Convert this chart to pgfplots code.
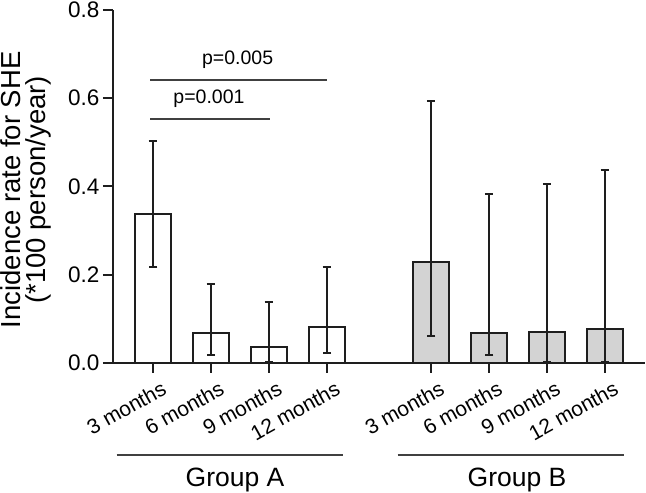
\documentclass[border=0pt]{standalone}
\usepackage{fontspec}
\setmainfont{Liberation Sans}
\usepackage{pgfplots}
\pgfplotsset{compat=1.18}
\usepackage{pgfplotstable}
\definecolor{lightgr}{RGB}{211,211,211}
\definecolor{ink}{RGB}{30,30,30}

\pgfplotstableread{
x y ep em
0 0.337 0.167 0.121
1 0.068 0.111 0.051
2 0.036 0.101 0.034
3 0.082 0.135 0.059
}\groupA
\pgfplotstableread{
x y ep em
4.8 0.228 0.365 0.167
5.8 0.067 0.316 0.050
6.8 0.070 0.335 0.068
7.8 0.076 0.360 0.074
}\groupB

\begin{document}
\begin{tikzpicture}
\begin{axis}[
  at={(0,0)}, anchor=south west,
  scale only axis, width=532pt, height=352.7pt,
  xmin=-0.69, xmax=8.49, ymin=0, ymax=0.8,
  axis x line=bottom, axis y line=left,
  axis line style={-, line width=2pt, ink},
  ytick={0,0.2,0.4,0.6,0.8}, yticklabels={0.0,0.2,0.4,0.6,0.8},
  xtick={0,1,2,3,4.8,5.8,6.8,7.8},
  xticklabels={3 months,6 months,9 months,12 months,3 months,6 months,9 months,12 months},
  tick align=outside, major tick length=10pt,
  tick style={line width=2pt, ink},
  yticklabel style={font=\fontsize{22.5}{26}\selectfont},
  xticklabel style={font=\fontsize{21}{25}\selectfont, rotate=29, anchor=north east, inner sep=0pt, xshift=3pt, yshift=-10pt},
  ylabel={Incidence rate for SHE\\(*100 person/year)},
  ylabel style={at={(axis description cs:-0.1635,0.49)}, anchor=center, align=center, font=\fontsize{27.5}{25.5}\selectfont},
  clip=false,
]
\addplot[ybar, bar width=0.625, fill=white, draw=ink, line width=2pt,
  error bars/.cd, y dir=both, y explicit,
  error bar style={line width=2pt, ink},
  error mark=-,
  error mark options={rotate=90, line width=2pt, mark size=4.3pt, ink}]
  table[x=x, y=y, y error plus=ep, y error minus=em] {\groupA};
\addplot[ybar, bar width=0.625, fill=lightgr, draw=ink, line width=2pt,
  error bars/.cd, y dir=both, y explicit,
  error bar style={line width=2pt, ink},
  error mark=-,
  error mark options={rotate=90, line width=2pt, mark size=4.3pt, ink}]
  table[x=x, y=y, y error plus=ep, y error minus=em] {\groupB};
\draw[line width=2pt, ink!85] (axis cs:-0.05,0.552) -- (axis cs:2.02,0.552);
\draw[line width=2pt, ink!85] (axis cs:-0.05,0.642) -- (axis cs:3.0,0.642);
\node[anchor=base, font=\fontsize{19.5}{22}\selectfont, inner sep=0pt] at (axis cs:0.966,0.587) {p=0.001};
\node[anchor=base, font=\fontsize{19.5}{22}\selectfont, inner sep=0pt] at (axis cs:1.46,0.677) {p=0.005};
\end{axis}
\draw[line width=2pt, ink!85] (3.7pt,-92.3pt) -- (230.3pt,-92.3pt);
\draw[line width=2pt, ink!85] (284.7pt,-92.3pt) -- (511.3pt,-92.3pt);
\node[anchor=base, font=\fontsize{26.5}{30}\selectfont, inner sep=0pt] at (122pt,-123.3pt) {Group A};
\node[anchor=base, font=\fontsize{26.5}{30}\selectfont, inner sep=0pt] at (404pt,-123.3pt) {Group B};
\pgfresetboundingbox
\path[use as bounding box] (-113pt,-130.3pt) rectangle (533pt,362.7pt);
\end{tikzpicture}
\end{document}
